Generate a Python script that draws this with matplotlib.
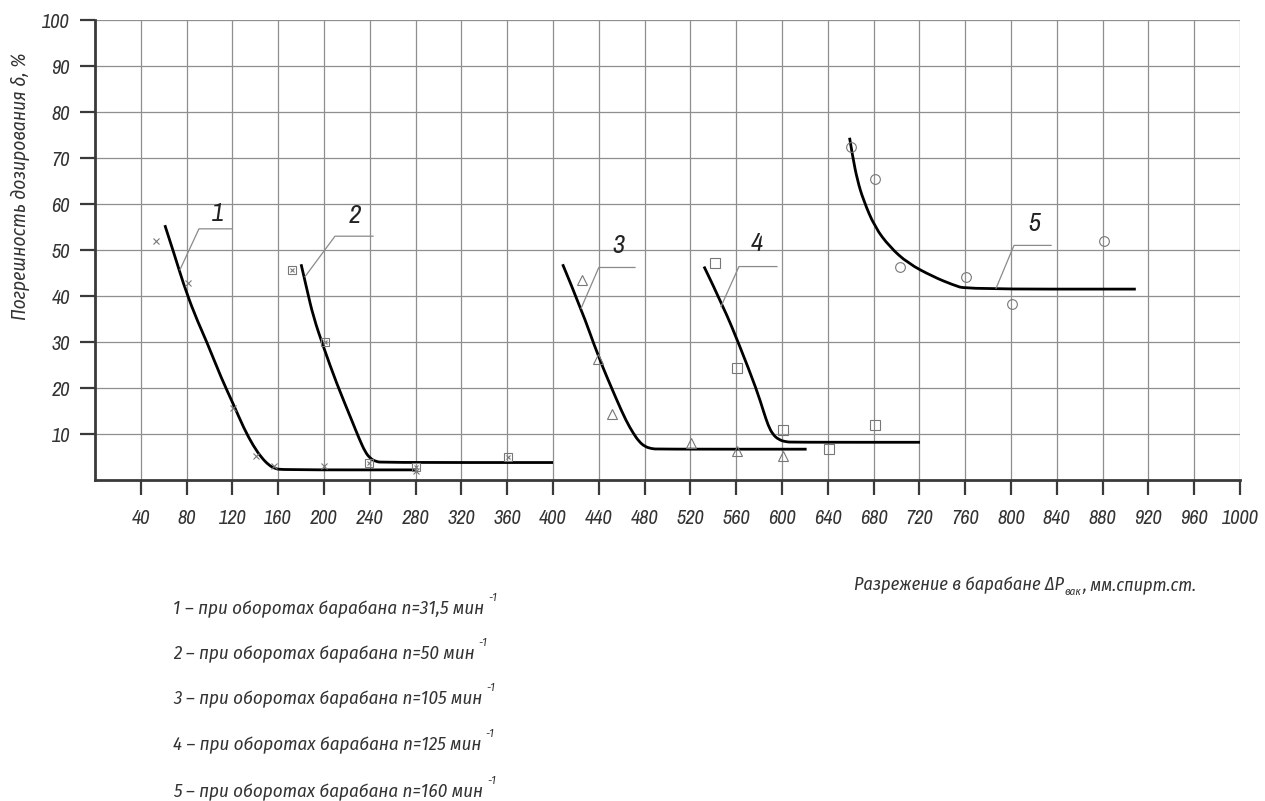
import os
import matplotlib
matplotlib.use("Agg")
import matplotlib.pyplot as plt
from matplotlib import font_manager as fm
from matplotlib.ft2font import FT2Font
from matplotlib.path import Path
from matplotlib.patches import PathPatch

# fitted curves
c1_x = [61, 70, 77, 87, 97.5, 110.6, 120.8, 130.1, 138.3, 145.6, 152, 157, 163, 280]
c1_y = [55.4, 48.5, 42.8, 36, 30.1, 22, 16.5, 11.2, 7.4, 4.8, 3.2, 2.5, 2.2, 2.2]
c2_x = [180, 185, 190.7, 199.4, 211, 224.2, 231, 236, 240, 245, 252, 400]
c2_y = [46.9, 41.5, 35.5, 29, 21, 13, 8.8, 6.1, 4.8, 4.0, 3.8, 3.8]
c3_x = [408.4, 425, 439.6, 455.6, 464, 470, 475, 480, 486, 492, 621.5]
c3_y = [46.9, 37, 26.8, 17.4, 12.8, 10.2, 8.4, 7.3, 6.8, 6.7, 6.7]
c4_x = [531.9, 548.8, 563.3, 577.9, 584, 588, 592, 597, 603, 610, 720.5]
c4_y = [46.4, 37.7, 29, 19.6, 14.8, 11.8, 9.9, 8.8, 8.3, 8.2, 8.2]
c5_x = [659, 661.7, 665.8, 671, 681, 694, 710, 732, 749.5, 761, 909]
c5_y = [74.4, 70.3, 65.2, 60.9, 55, 50.7, 47.1, 44.2, 42.4, 41.5, 41.5]

# measured points
p1_x = [53, 81, 120.3, 141, 156.6, 200.3, 280.3]
p1_y = [52, 42.8, 15.6, 5.2, 3.0, 3.0, 2.0]
p2_x = [172.3, 201, 239.6, 280.3, 360.7]
p2_y = [45.7, 29.9, 3.6, 2.9, 5.0]
p3_x = [425.6, 439.6, 451.3, 520.5, 560.4, 601]
p3_y = [43.5, 26.4, 14.3, 8.0, 6.3, 5.3]
p4_x = [541.5, 560.4, 601, 641, 681]
p4_y = [47.1, 24.4, 10.9, 6.7, 12.0]
p5_x = [660, 681, 703, 761, 801, 881]
p5_y = [72.3, 65.4, 46.2, 44.2, 38.2, 52.0]

# leader lines and curve numbers
leaders = [
    ([74.2, 90.8, 119.4], [45.7, 54.6, 54.6], '1', 107, 58),
    ([183.4, 209.6, 242.8], [44.2, 53.0, 53.0], '2', 227, 57.6),
    ([424.5, 440.0, 471.6], [37.3, 46.2, 46.2], '3', 456.8, 51),
    ([546.7, 562.4, 595.6], [37.7, 46.4, 46.4], '4', 578, 51.4),
    ([787.0, 802.6, 835.0], [41.7, 51.0, 51.0], '5', 820, 55.8),
]

legend_lines = [
    '1 – при оборотах барабана n=31,5 мин',
    '2 – при оборотах барабана n=50 мин',
    '3 – при оборотах барабана n=105 мин',
    '4 – при оборотах барабана n=125 мин',
    '5 – при оборотах барабана n=160 мин',
]
legend_y = [607, 652, 697, 743, 790]

x_ticks = list(range(40, 1001, 40))
y_ticks = list(range(10, 101, 10))

NEEDED = 'ПогрешнстьдзиваяРкбΔδ–%.,='


def covers(fname, chars):
    try:
        cmap = FT2Font(fname).get_charmap()
    except Exception:
        return False
    return all(ord(c) in cmap for c in chars)


def pick_font(chars):
    # narrow italic font that has all the glyphs, else Liberation Sans italic
    best, best_score = None, -1
    for f in fm.fontManager.ttflist:
        n = f.name.lower()
        fn = os.path.basename(f.fname).lower()
        if 'cjk' in n or 'mono' in n or 'serif' in n.replace('sans', ''):
            continue
        if not ('narrow' in n + fn or 'condensed' in n + fn or 'cond' in fn):
            continue
        if any(w in fn for w in ['bold', 'light', 'thin', 'black', 'medium', 'semibold', 'extrabold']):
            continue
        if not covers(f.fname, chars):
            continue
        score = 1
        if 'italic' in fn or f.style == 'italic':
            score += 10
        if 'extra' in fn or 'semi' in fn or 'ultra' in fn:
            score -= 3
        if score > best_score:
            best, best_score = f.fname, score
    if best is None:
        best = fm.findfont(fm.FontProperties(family='Liberation Sans', style='italic'))
    return best


FONT = pick_font(NEEDED)
NUM_FONT = pick_font('0123456789')


def fp(size, fname=FONT):
    return fm.FontProperties(fname=fname, size=size)


W, H = 1265, 801
fig = plt.figure(figsize=(W / 100, H / 100), dpi=100)
ax = fig.add_axes([95 / W, 1 - 480 / H, (1240 - 95) / W, (480 - 20) / H])
r = fig.canvas.get_renderer()


def fit(t, target):
    w = t.get_window_extent(renderer=r).width
    t.set_fontsize(t.get_fontsize() * target / w)
    return t


# tick label size so that "1000" is ~37 px wide
probe = fig.text(0, 0, '1000', fontproperties=fp(14, NUM_FONT))
fit(probe, 37)
tick_size = probe.get_fontsize()
probe.remove()

ax.set_xlim(0, 1000)
ax.set_ylim(0, 100)
ax.set_xticks(x_ticks, [str(v) for v in x_ticks], fontproperties=fp(tick_size, NUM_FONT), color='#333333')
ax.set_yticks(y_ticks, [str(v) for v in y_ticks], fontproperties=fp(tick_size, NUM_FONT), color='#333333')
ax.grid(True, color='#8f8f8f', lw=0.9)
ax.set_axisbelow(True)
for s in ['top', 'right']:
    ax.spines[s].set_visible(False)
for s in ['left', 'bottom']:
    ax.spines[s].set_linewidth(2)
    ax.spines[s].set_color('#3a3a3a')
ax.tick_params(axis='both', direction='out', length=11, width=1.6, color='#3a3a3a')
ax.tick_params(axis='x', pad=10)
ax.tick_params(axis='y', pad=7)

mk = dict(ls='none', color='#777777', mfc='none', mew=0.8)
ax.plot(p1_x, p1_y, marker='x', ms=5, **mk)
ax.plot(p2_x, p2_y, marker='s', ms=6, **mk)
ax.plot(p2_x, p2_y, marker='x', ms=3.5, **mk)
ax.plot(p3_x, p3_y, marker='^', ms=6.5, **mk)
ax.plot(p4_x, p4_y, marker='s', ms=6.5, **mk)
ax.plot(p5_x, p5_y, marker='o', ms=7, **mk)


def smooth_curve(xs, ys):
    # quadratic Bezier through midpoints, read points act as control points
    verts = [(xs[0], ys[0])]
    codes = [Path.MOVETO]
    for i in range(1, len(xs) - 1):
        verts += [(xs[i], ys[i]), ((xs[i] + xs[i + 1]) / 2, (ys[i] + ys[i + 1]) / 2)]
        codes += [Path.CURVE3, Path.CURVE3]
    verts.append((xs[-1], ys[-1]))
    codes.append(Path.LINETO)
    return PathPatch(Path(verts, codes), fill=False, edgecolor='black', lw=2,
                     capstyle='butt', joinstyle='round')


for cx, cy in [(c1_x, c1_y), (c2_x, c2_y), (c3_x, c3_y), (c4_x, c4_y), (c5_x, c5_y)]:
    ax.add_patch(smooth_curve(cx, cy))

for lx, ly, num, tx, ty in leaders:
    ax.plot(lx, ly, color='#8a8a8a', lw=0.9)
    ax.text(tx, ty, num, fontproperties=fp(19, NUM_FONT), ha='center', va='center', color='#222222')

# y axis title
yl = fig.text(20 / W, 1 - 186 / H, 'Погрешность дозирования δ, %', fontproperties=fp(16),
              rotation=90, ha='center', va='center', color='#333333')
fit_h = yl.get_window_extent(renderer=r).height
yl.set_fontsize(yl.get_fontsize() * 268 / fit_h)

# x axis title with subscript
base = 1 - 590 / H
t1 = fig.text(854 / W, base, 'Разрежение в барабане ΔP', fontproperties=fp(14),
              ha='left', va='baseline', color='#333333')
fit(t1, 210)
s_main = t1.get_fontsize()
bb = t1.get_window_extent(renderer=r)
t2 = fig.text((bb.x1 + 1) / W, base - 5 / H, 'вак', fontproperties=fp(s_main * 0.62),
              ha='left', va='baseline', color='#333333')
bb = t2.get_window_extent(renderer=r)
fig.text((bb.x1 + 1) / W, base, ', мм.спирт.ст.', fontproperties=fp(s_main),
         ha='left', va='baseline', color='#333333')

# notes with superscript -1
leg_size = None
for txt, yy in zip(legend_lines, legend_y):
    t = fig.text(173 / W, 1 - (yy + 7) / H, txt, fontproperties=fp(14),
                 ha='left', va='baseline', color='#333333')
    if leg_size is None:
        fit(t, 312)
        leg_size = t.get_fontsize()
    else:
        t.set_fontsize(leg_size)
    bb = t.get_window_extent(renderer=r)
    fig.text((bb.x1 + 4) / W, 1 - (yy - 6) / H, '-1', fontproperties=fp(leg_size * 0.62),
             ha='left', va='baseline', color='#333333')

fig.savefig('out.png', dpi=100)
